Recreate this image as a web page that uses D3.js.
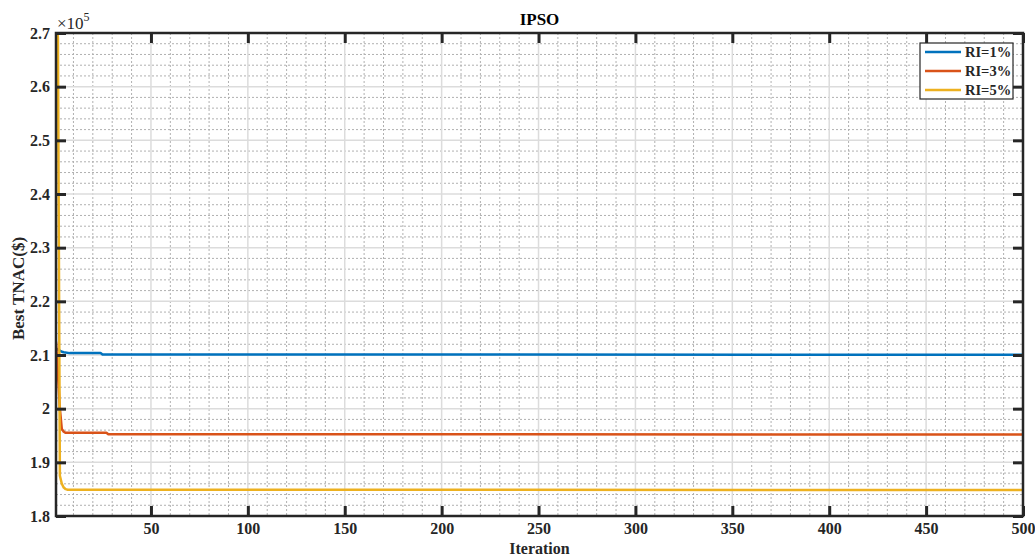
<!DOCTYPE html>
<html><head><meta charset="utf-8">
<script src="https://cdn.jsdelivr.net/npm/d3@7"></script>
<style>body{margin:0;background:#fff}svg{display:block}</style>
</head><body>
<svg id="c" width="1035" height="557"></svg>
<script>
// Data (best-so-far values; breakpoints where the value changes)
const seriesNames = ["RI=1%", "RI=3%", "RI=5%"];
const seriesColors = ["#0072BD", "#D95319", "#EDB120"];
const iterRI1 = [1, 2, 3, 4, 5, 8, 24, 25, 500];
const valRI1  = [2.112, 2.110, 2.108, 2.106, 2.105, 2.1035, 2.1035, 2.1008, 2.1006];
const iterRI3 = [1, 2, 3, 4, 5, 6, 27, 28, 500];
const valRI3  = [2.125, 2.065, 2.0, 1.962, 1.957, 1.955, 1.955, 1.9522, 1.9520];
const iterRI5 = [1, 2, 3, 4, 5, 6, 7, 500];
const valRI5  = [2.76, 2.69, 1.875, 1.860, 1.853, 1.850, 1.849, 1.8485];
const xTicks = [50, 100, 150, 200, 250, 300, 350, 400, 450, 500];
const yTicks = [1.8, 1.9, 2.0, 2.1, 2.2, 2.3, 2.4, 2.5, 2.6, 2.7];
const xMinor = d3.range(10, 501, 10);
const yMinor = d3.range(1.8, 2.7001, 0.02);

const svg = d3.select("#c");
const L = 56, R = 1023, T = 33, B = 516;
const x = d3.scaleLinear().domain([1, 500]).range([L, R]);
const y = d3.scaleLinear().domain([1.8, 2.7]).range([B, T]);
const serif = "'Liberation Serif','Times New Roman',serif";

// minor grid
const g = svg.append("g");
g.selectAll("line.mx").data(xMinor.filter(v => v % 50 !== 0)).join("line")
  .attr("x1", d => x(d)).attr("x2", d => x(d)).attr("y1", T).attr("y2", B)
  .attr("stroke", "#b0b0b0").attr("stroke-width", 1).attr("stroke-dasharray", "2,2");
g.selectAll("line.my").data(yMinor.filter(v => Math.abs(v * 10 - Math.round(v * 10)) > 1e-6)).join("line")
  .attr("x1", L).attr("x2", R).attr("y1", d => y(d)).attr("y2", d => y(d))
  .attr("stroke", "#b0b0b0").attr("stroke-width", 1).attr("stroke-dasharray", "2,2");
// major grid
g.append("g").selectAll("line").data(xTicks).join("line")
  .attr("x1", d => x(d)).attr("x2", d => x(d)).attr("y1", T).attr("y2", B)
  .attr("stroke", "#dcdcdc").attr("stroke-width", 1.5);
g.append("g").selectAll("line").data(yTicks).join("line")
  .attr("x1", L).attr("x2", R).attr("y1", d => y(d)).attr("y2", d => y(d))
  .attr("stroke", "#dcdcdc").attr("stroke-width", 1.5);

// lines
svg.append("clipPath").attr("id", "clip").append("rect")
  .attr("x", L).attr("y", T - 1).attr("width", R - L).attr("height", B - T + 1);
const series = [[iterRI1, valRI1], [iterRI3, valRI3], [iterRI5, valRI5]];
const line = d3.line().x(d => x(d[0])).y(d => y(d[1]));
series.forEach((s, i) => {
  const pts = s[0].map((it, k) => [it, s[1][k]]);
  svg.append("path").attr("clip-path", "url(#clip)")
    .attr("d", line(pts)).attr("fill", "none")
    .attr("stroke", seriesColors[i]).attr("stroke-width", 2.5)
    .attr("stroke-linejoin", "round");
});

// axes
const tickStyle = sel => {
  sel.select(".domain").remove();
  sel.selectAll(".tick line").attr("stroke", "#262626").attr("stroke-width", 3);
  sel.selectAll(".tick text").attr("font-family", serif).attr("font-weight", "bold")
    .attr("font-size", 16).attr("fill", "#262626");
};
svg.append("g").attr("transform", `translate(0,${B})`)
  .call(d3.axisBottom(x).tickValues(xTicks).tickSize(-10).tickPadding(7).tickFormat(d3.format("d")))
  .call(tickStyle);
svg.append("g").attr("transform", `translate(${L},0)`)
  .call(d3.axisLeft(y).tickValues(yTicks).tickSize(-10).tickPadding(6).tickFormat(d => d3.format("")(+d.toFixed(1))))
  .call(tickStyle);
svg.append("g").attr("transform", `translate(0,${T})`)
  .call(d3.axisTop(x).tickValues(xTicks).tickSize(-10).tickFormat(""))
  .call(tickStyle);
svg.append("g").attr("transform", `translate(${R},0)`)
  .call(d3.axisRight(y).tickValues(yTicks).tickSize(-10).tickFormat(""))
  .call(tickStyle);
svg.append("rect").attr("x", L).attr("y", T).attr("width", R - L).attr("height", B - T)
  .attr("fill", "none").attr("stroke", "#262626").attr("stroke-width", 2.5);

// texts
svg.append("text").attr("x", (L + R) / 2).attr("y", 25).attr("text-anchor", "middle")
  .attr("font-family", serif).attr("font-weight", "bold").attr("font-size", 17).text("IPSO");
svg.append("text").attr("x", (L + R) / 2).attr("y", 554).attr("text-anchor", "middle")
  .attr("font-family", serif).attr("font-weight", "bold").attr("font-size", 16).attr("fill", "#262626").text("Iteration");
svg.append("text").attr("transform", `translate(24,${(T + B) / 2 + 14}) rotate(-90)`).attr("text-anchor", "middle")
  .attr("font-family", serif).attr("font-weight", "bold").attr("font-size", 17).attr("fill", "#262626").text("Best TNAC($)");
const ex = svg.append("text").attr("x", 57).attr("y", 29).attr("font-family", serif)
  .attr("font-size", 17).attr("fill", "#262626");
ex.append("tspan").text("\u00d710");
ex.append("tspan").attr("dy", -8).attr("font-size", 12).text("5");

// legend
const lg = svg.append("g").attr("transform", "translate(920,43)");
lg.append("rect").attr("width", 93).attr("height", 56).attr("fill", "#fff")
  .attr("stroke", "#262626").attr("stroke-width", 1.2);
seriesNames.forEach((n, i) => {
  const yy = 9 + i * 19;
  lg.append("line").attr("x1", 5).attr("x2", 41).attr("y1", yy).attr("y2", yy)
    .attr("stroke", seriesColors[i]).attr("stroke-width", 2.5);
  lg.append("text").attr("x", 45).attr("y", yy + 5).attr("font-family", serif)
    .attr("font-weight", "bold").attr("font-size", 14.5).attr("fill", "#262626").text(n);
});
</script>
</body></html>
